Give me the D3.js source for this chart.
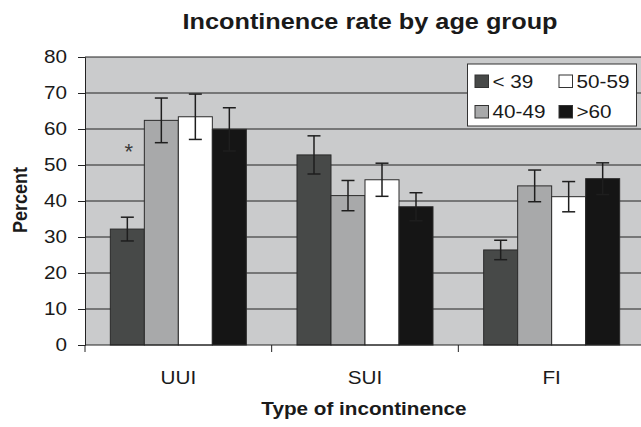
<!DOCTYPE html>
<html>
<head>
<meta charset="UTF-8">
<script src="https://d3js.org/d3.v7.min.js"></script>
<style>
  body { margin: 0; background: #fff; }
  svg text { font-family: "Liberation Sans", Arial, Helvetica, sans-serif; fill: #1a1a1a; }
</style>
</head>
<body>
<svg id="chart" width="641" height="427"></svg>
<script>
// data
var categories = ["UUI", "SUI", "FI"];
var groups = ["< 39", "40-49", "50-59", ">60"];
var values = {
  "< 39":  [32.2, 52.8, 26.4],
  "40-49": [62.4, 41.5, 44.2],
  "50-59": [63.4, 45.9, 41.2],
  ">60":   [59.9, 38.4, 46.2]
};
var errors = {
  "< 39":  [3.3, 5.3, 2.7],
  "40-49": [6.2, 4.2, 4.4],
  "50-59": [6.3, 4.6, 4.2],
  ">60":   [6.0, 3.9, 4.4]
};
var yTicks = [0, 10, 20, 30, 40, 50, 60, 70, 80];

var colors = { "< 39": "#474948", "40-49": "#a8a9aa", "50-59": "#ffffff", ">60": "#151515" };
var sx = 1.15; // the original picture is a bit stretched sideways

var svg = d3.select("#chart");
var plotL = 85, plotR = 645, plotT = 57, plotB = 345;

var x0 = d3.scaleBand().domain(categories).range([plotL, plotR]).padding(0);
var x1 = d3.scaleBand().domain(groups).range([0, x0.bandwidth()]).paddingInner(0).paddingOuter(0.745);
var y = d3.scaleLinear().domain([0, 80]).range([plotB, plotT]);

function stext(sel, x, yy, size, anchor, weight) {
  return sel.append("text")
    .attr("transform", "translate(" + x + "," + yy + ") scale(" + sx + ",1)")
    .attr("text-anchor", anchor)
    .style("font-size", size + "px")
    .style("font-weight", weight || "normal");
}

// plot background
svg.append("rect")
  .attr("x", plotL).attr("y", plotT)
  .attr("width", plotR - plotL).attr("height", plotB - plotT)
  .attr("fill", "#cacbcc");

// gridlines
svg.append("g").selectAll("line")
  .data(yTicks.filter(d => d > 0))
  .join("line")
  .attr("x1", plotL).attr("x2", plotR)
  .attr("y1", d => y(d)).attr("y2", d => y(d))
  .attr("stroke", "#222").attr("stroke-width", 1);

// bars
var cat = svg.append("g").selectAll("g")
  .data(categories)
  .join("g")
  .attr("transform", d => "translate(" + x0(d) + ",0)");

var barData = (c, ci) => groups.map(g => ({ g: g, v: values[g][ci], e: errors[g][ci] }));

cat.selectAll("rect")
  .data(barData)
  .join("rect")
  .attr("x", d => x1(d.g))
  .attr("y", d => y(d.v))
  .attr("width", x1.bandwidth())
  .attr("height", d => y(0) - y(d.v))
  .attr("fill", d => colors[d.g])
  .attr("stroke", "#2a2a2a")
  .attr("stroke-width", 1);

// error bars
var eb = cat.selectAll("g.err")
  .data(barData)
  .join("g")
  .attr("class", "err")
  .attr("transform", d => "translate(" + (x1(d.g) + x1.bandwidth() / 2) + ",0)");
eb.append("line")
  .attr("y1", d => y(d.v + d.e)).attr("y2", d => y(d.v - d.e))
  .attr("stroke", "#1e1e1e").attr("stroke-width", 1.5);
eb.selectAll("line.cap")
  .data(d => [d.v + d.e, d.v - d.e])
  .join("line")
  .attr("class", "cap")
  .attr("x1", -6.5).attr("x2", 6.5)
  .attr("y1", d => y(d)).attr("y2", d => y(d))
  .attr("stroke", "#1e1e1e").attr("stroke-width", 1.5);

// asterisk over the youngest UUI bar
svg.append("text")
  .attr("x", x0("UUI") + x1("< 39") + x1.bandwidth() / 2 + 1.5)
  .attr("y", y(51.6))
  .attr("text-anchor", "middle")
  .style("font-size", "22px")
  .style("fill", "#3a3a3a")
  .text("*");

// y axis
var yAxis = svg.append("g")
  .attr("transform", "translate(" + plotL + ",0)")
  .call(d3.axisLeft(y).tickValues(yTicks).tickSize(7).tickPadding(8));
yAxis.select(".domain").attr("stroke", "#222");
yAxis.selectAll(".tick line").attr("stroke", "#222");
yAxis.selectAll(".tick text")
  .attr("x", null)
  .attr("transform", "translate(-18,0) scale(" + sx + ",1)")
  .style("font-size", "18px")
  .style("font-family", "Liberation Sans, Arial, sans-serif")
  .attr("fill", "#1a1a1a");

// x axis
var xAxis = svg.append("g")
  .attr("transform", "translate(0," + plotB + ")");
xAxis.append("line")
  .attr("x1", plotL).attr("x2", plotR)
  .attr("stroke", "#222");
xAxis.selectAll("line.tk")
  .data(categories.map(c => x0(c)).concat([plotR]))
  .join("line")
  .attr("class", "tk")
  .attr("x1", d => d).attr("x2", d => d)
  .attr("y1", 0).attr("y2", 7)
  .attr("stroke", "#222");
categories.forEach(function(c) {
  stext(svg, x0(c) + x0.bandwidth() / 2, 384, 18, "middle").text(c);
});

// titles
stext(svg, 370, 29, 22, "middle", "bold").text("Incontinence rate by age group");
stext(svg, 364, 415, 18, "middle", "bold").text("Type of incontinence");
svg.append("text")
  .attr("transform", "translate(27,200) rotate(-90) scale(1,1.15)")
  .attr("text-anchor", "middle")
  .style("font-size", "18px")
  .style("font-weight", "bold")
  .text("Percent");

// legend
var lg = svg.append("g").attr("transform", "translate(467.5,64)");
lg.append("rect")
  .attr("width", 169).attr("height", 62)
  .attr("fill", "#fff").attr("stroke", "#333").attr("stroke-width", 1);
var legendPos = [[7.5, 11], [7.5, 41.5], [91.5, 11], [91.5, 41.5]];
groups.forEach(function(g, i) {
  var p = legendPos[i];
  lg.append("rect")
    .attr("x", p[0]).attr("y", p[1])
    .attr("width", 13.5).attr("height", 12.5)
    .attr("fill", colors[g]).attr("stroke", "#333").attr("stroke-width", 1);
  stext(lg, p[0] + 17.5, p[1] + 12.5, 18, "start").text(g);
});
</script>
</body>
</html>
